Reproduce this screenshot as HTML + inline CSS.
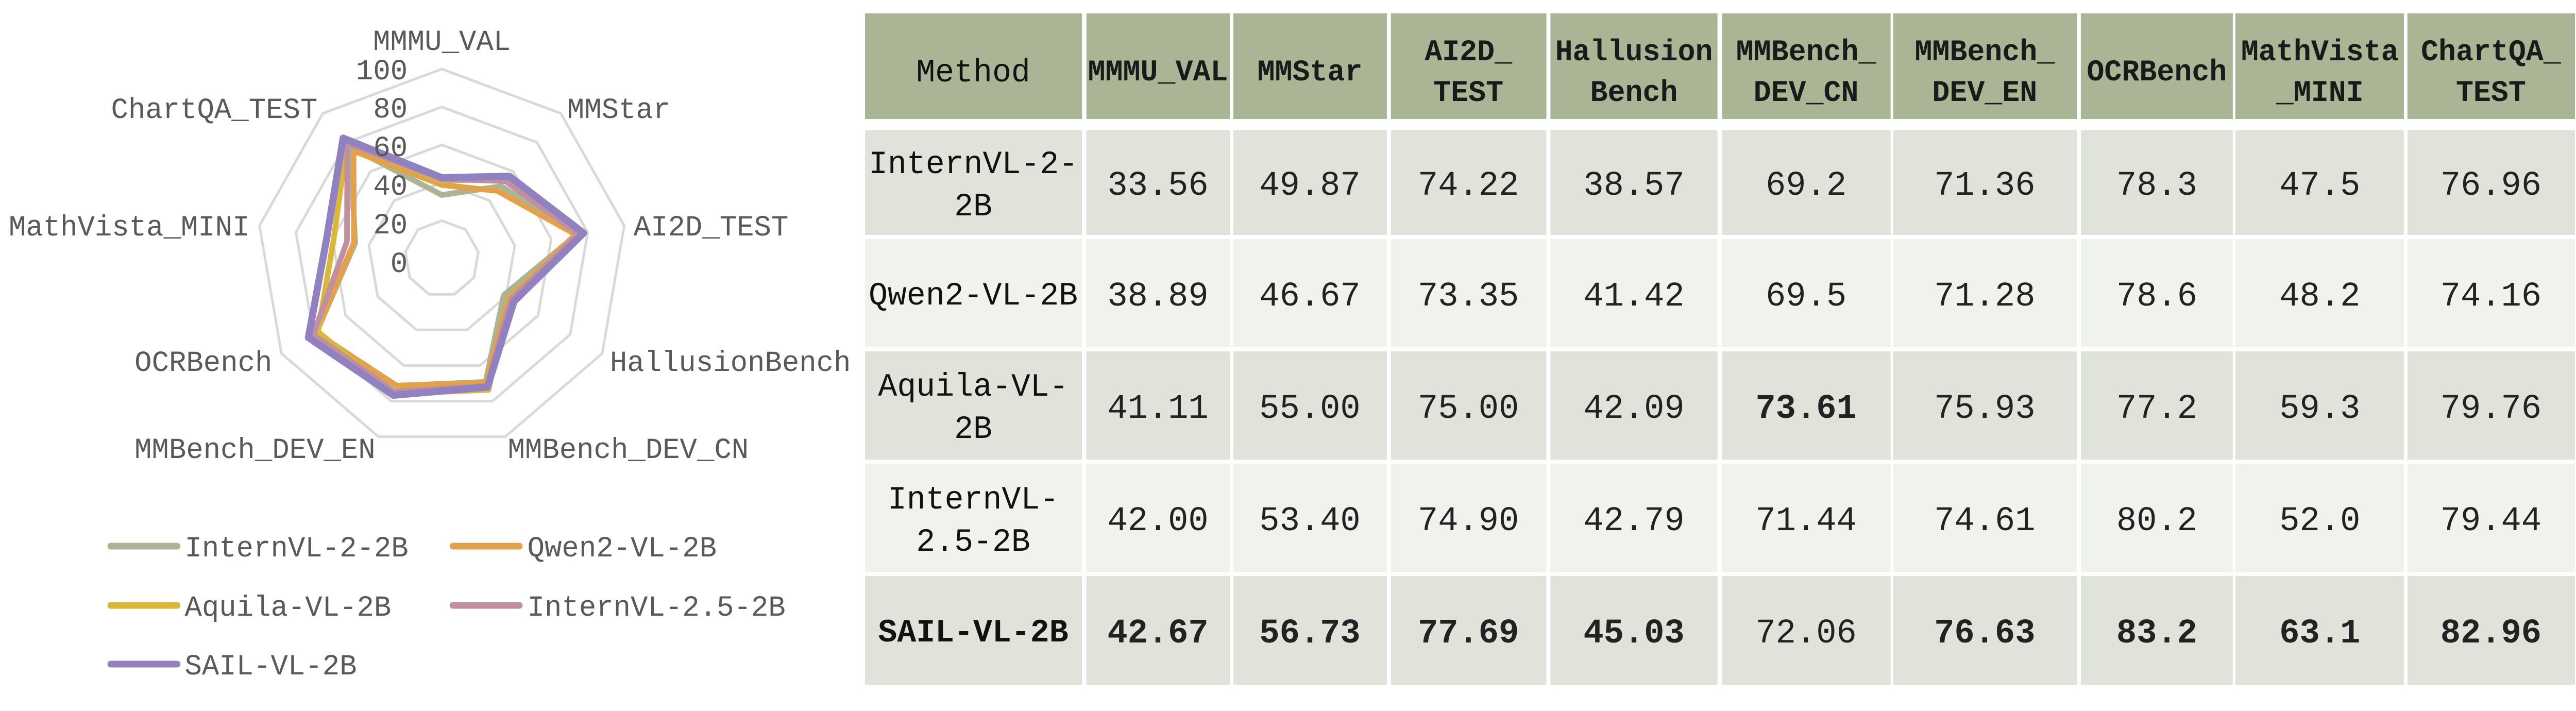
<!DOCTYPE html>
<html><head><meta charset="utf-8"><style>
html,body{margin:0;padding:0;background:#fff;overflow:hidden;width:100%;height:100%;}
svg{display:block;width:100vw;height:100vh;}
text{font-family:"Liberation Mono",monospace;}
.ax{font-size:57px;fill:#595959;}
.h{font-size:58px;font-weight:bold;fill:#1a1a1a;text-anchor:middle;}
.m{font-size:63px;fill:#111;text-anchor:middle;}
.d{font-size:67px;fill:#222;text-anchor:middle;}
.b{font-weight:bold;}
</style></head><body>
<svg id="s" viewBox="0 0 5119 1380" preserveAspectRatio="none" xmlns="http://www.w3.org/2000/svg">
<g id="radar"></g>
<text class="ax" x="878" y="97" text-anchor="middle">MMMU_VAL</text>
<text class="ax" x="1127" y="229">MMStar</text>
<text class="ax" x="1259" y="457">AI2D_TEST</text>
<text class="ax" x="1212" y="720">HallusionBench</text>
<text class="ax" x="1009" y="889">MMBench_DEV_CN</text>
<text class="ax" x="746" y="889" text-anchor="end">MMBench_DEV_EN</text>
<text class="ax" x="541" y="720" text-anchor="end">OCRBench</text>
<text class="ax" x="496" y="457" text-anchor="end">MathVista_MINI</text>
<text class="ax" x="631" y="229" text-anchor="end">ChartQA_TEST</text>
<g class="ax" text-anchor="end">
<text x="810" y="154">100</text><text x="810" y="228">80</text><text x="810" y="303">60</text>
<text x="810" y="378">40</text><text x="810" y="453">20</text><text x="810" y="528">0</text>
</g>
<g stroke-width="13" stroke-linecap="round">
<line x1="220" y1="1060" x2="352" y2="1060" stroke="#a9b594"/>
<line x1="900" y1="1060" x2="1032" y2="1060" stroke="#e3a24a"/>
<line x1="220" y1="1175" x2="352" y2="1175" stroke="#d9b838"/>
<line x1="900" y1="1175" x2="1032" y2="1175" stroke="#c0909f"/>
<line x1="220" y1="1289" x2="352" y2="1289" stroke="#9281c0"/>
</g>
<text class="ax" x="367" y="1080">InternVL-2-2B</text>
<text class="ax" x="1048" y="1080">Qwen2-VL-2B</text>
<text class="ax" x="367" y="1195">Aquila-VL-2B</text>
<text class="ax" x="1048" y="1195">InternVL-2.5-2B</text>
<text class="ax" x="367" y="1309">SAIL-VL-2B</text>
<g id="tbl"></g>
<g>
<text class="m" x="1934" y="158" style="font-weight:normal">Method</text>
<text class="h" x="2301" y="156">MMMU_VAL</text>
<text class="h" x="2603" y="156">MMStar</text>
<text class="h" x="2918" y="117">AI2D_</text><text class="h" x="2918" y="196">TEST</text>
<text class="h" x="3247" y="117">Hallusion</text><text class="h" x="3247" y="196">Bench</text>
<text class="h" x="3589" y="117">MMBench_</text><text class="h" x="3589" y="196">DEV_CN</text>
<text class="h" x="3944" y="117">MMBench_</text><text class="h" x="3944" y="196">DEV_EN</text>
<text class="h" x="4286" y="156">OCRBench</text>
<text class="h" x="4610" y="117">MathVista</text><text class="h" x="4610" y="196">_MINI</text>
<text class="h" x="4950" y="117">ChartQA_</text><text class="h" x="4950" y="196">TEST</text>
</g>
<g>
<text class="m" x="1934" y="336">InternVL-2-</text><text class="m" x="1934" y="418">2B</text>
<text class="m" x="1934" y="591">Qwen2-VL-2B</text>
<text class="m" x="1934" y="768">Aquila-VL-</text><text class="m" x="1934" y="850">2B</text>
<text class="m" x="1934" y="987">InternVL-</text><text class="m" x="1934" y="1069">2.5-2B</text>
<text class="m b" x="1934" y="1245">SAIL-VL-2B</text>
</g>
<g id="cells">
<text class="d" x="2301" y="378">33.56</text><text class="d" x="2603" y="378">49.87</text><text class="d" x="2918" y="378">74.22</text><text class="d" x="3247" y="378">38.57</text><text class="d" x="3589" y="378">69.2</text><text class="d" x="3944" y="378">71.36</text><text class="d" x="4286" y="378">78.3</text><text class="d" x="4610" y="378">47.5</text><text class="d" x="4950" y="378">76.96</text>
<text class="d" x="2301" y="593">38.89</text><text class="d" x="2603" y="593">46.67</text><text class="d" x="2918" y="593">73.35</text><text class="d" x="3247" y="593">41.42</text><text class="d" x="3589" y="593">69.5</text><text class="d" x="3944" y="593">71.28</text><text class="d" x="4286" y="593">78.6</text><text class="d" x="4610" y="593">48.2</text><text class="d" x="4950" y="593">74.16</text>
<text class="d" x="2301" y="811">41.11</text><text class="d" x="2603" y="811">55.00</text><text class="d" x="2918" y="811">75.00</text><text class="d" x="3247" y="811">42.09</text><text class="d b" x="3589" y="811">73.61</text><text class="d" x="3944" y="811">75.93</text><text class="d" x="4286" y="811">77.2</text><text class="d" x="4610" y="811">59.3</text><text class="d" x="4950" y="811">79.76</text>
<text class="d" x="2301" y="1029">42.00</text><text class="d" x="2603" y="1029">53.40</text><text class="d" x="2918" y="1029">74.90</text><text class="d" x="3247" y="1029">42.79</text><text class="d" x="3589" y="1029">71.44</text><text class="d" x="3944" y="1029">74.61</text><text class="d" x="4286" y="1029">80.2</text><text class="d" x="4610" y="1029">52.0</text><text class="d" x="4950" y="1029">79.44</text>
<text class="d b" x="2301" y="1247">42.67</text><text class="d b" x="2603" y="1247">56.73</text><text class="d b" x="2918" y="1247">77.69</text><text class="d b" x="3247" y="1247">45.03</text><text class="d" x="3589" y="1247">72.06</text><text class="d b" x="3944" y="1247">76.63</text><text class="d b" x="4286" y="1247">83.2</text><text class="d b" x="4610" y="1247">63.1</text><text class="d b" x="4950" y="1247">82.96</text>
</g>
</svg>
<script>
(function(){
var NS="http://www.w3.org/2000/svg";
var cx=878,cy=502,R=368;
function pt(k,v){var a=k*40*Math.PI/180;return (cx+Math.sin(a)*R*v/100).toFixed(1)+","+(cy-Math.cos(a)*R*v/100).toFixed(1);}
var g=document.getElementById("radar");
function poly(vals,col,w){var p=document.createElementNS(NS,"polygon");var s=[];for(var k=0;k<9;k++)s.push(pt(k,vals[k]));p.setAttribute("points",s.join(" "));p.setAttribute("fill","none");p.setAttribute("stroke",col);p.setAttribute("stroke-width",w);p.setAttribute("stroke-linejoin","round");g.appendChild(p);}
[20,40,60,80,100].forEach(function(r){poly([r,r,r,r,r,r,r,r,r],"#d9d9d9",5);});
var data=[
[[33.56,49.87,74.22,38.57,69.2,71.36,78.3,47.5,76.96],"#a9b594",11],
[[38.89,46.67,73.35,41.42,69.5,71.28,78.6,48.2,74.16],"#e3a24a",11],
[[41.11,55.00,75.00,42.09,73.61,75.93,77.2,59.3,79.76],"#d9b838",11],
[[42.00,53.40,74.90,42.79,71.44,74.61,80.2,52.0,79.44],"#c0909f",11],
[[42.67,56.73,77.69,45.03,72.06,76.63,83.2,63.1,82.96],"#9281c0",14]];
data.forEach(function(d){poly(d[0],d[1],d[2]);});
var t=document.getElementById("tbl");
var cols=[[1719,2150],[2159,2444],[2451,2756],[2764,3073],[3081,3413],[3422,3757],[3762,4127],[4135,4437],[4442,4777],[4784,5117]];
var rows=[[26,231,"#a9b594"],[253,456,"#e0e3da"],[464,674,"#f0f2ee"],[682,892,"#e0e3da"],[900,1111,"#f0f2ee"],[1118,1329,"#e0e3da"]];
rows.forEach(function(r){cols.forEach(function(c){var e=document.createElementNS(NS,"rect");e.setAttribute("x",c[0]);e.setAttribute("y",r[0]);e.setAttribute("width",c[1]-c[0]);e.setAttribute("height",r[1]-r[0]);e.setAttribute("fill",r[2]);t.appendChild(e);});});
})();
</script>
</body></html>
